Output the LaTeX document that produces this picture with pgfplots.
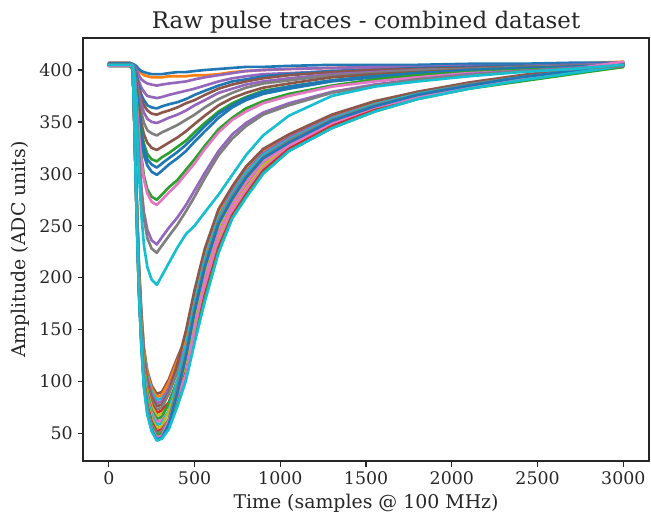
\documentclass[border=0pt]{standalone}
\usepackage{fontspec}
\setmainfont{DejaVu Serif}
\usepackage{pgfplots}
\usepackage{pgfplotstable}
\pgfplotsset{compat=1.18}
\definecolor{tabblue}{HTML}{1F77B4}
\definecolor{taborange}{HTML}{FF7F0E}
\definecolor{tabgreen}{HTML}{2CA02C}
\definecolor{tabred}{HTML}{D62728}
\definecolor{tabpurple}{HTML}{9467BD}
\definecolor{tabbrown}{HTML}{8C564B}
\definecolor{tabpink}{HTML}{E377C2}
\definecolor{tabgray}{HTML}{7F7F7F}
\definecolor{tabolive}{HTML}{BCBD22}
\definecolor{tabcyan}{HTML}{17BECF}
\definecolor{spine}{HTML}{262626}

% one row per trace, one column per sample time (row x)
\pgfplotstableread{
name c1 c2 c3 c4 c5 c6 c7 c8 c9 c10 c11 c12 c13 c14 c15 c16 c17 c18 c19 c20 c21 c22 c23 c24 c25 c26 c27 c28 c29
x 0 125 140 150 160 175 190 205 225 250 280 310 350 400 450 500 560 640 720 800 900 1050 1300 1550 1800 2100 2400 2700 3000
L1 405 405 402 351 291 215 167 132 110 96 88 90 102 123 142 180 221 262 286 304 323 337 356 368 378 387 393 399 404
L2 406 406 403 351 290 213 165 130 108 93 85 87 99 120 140 178 220 261 286 304 322 337 356 369 379 387 394 400 406
L3 404 404 401 349 288 211 162 127 104 90 82 84 92 111 134 166 201 243 272 290 311 330 350 364 375 384 391 397 404
L4 405 405 402 350 288 209 160 125 102 87 79 81 94 115 134 173 216 258 283 302 320 335 354 367 377 386 393 398 405
L5 407 407 404 351 288 208 159 122 99 84 76 78 89 117 149 188 228 266 288 307 324 338 357 370 379 388 395 401 407
L6 404 404 401 348 285 205 156 119 96 81 73 75 88 109 129 169 212 255 280 299 318 333 353 366 376 385 392 397 403
L7 405 405 402 348 284 204 154 117 93 78 70 72 80 100 124 157 194 238 268 287 308 328 349 364 374 384 391 398 405
L8 406 406 403 348 284 203 152 114 91 76 67 69 77 98 121 155 192 237 267 286 308 328 349 364 375 385 392 398 406
L9 404 404 401 346 282 200 149 112 88 72 64 66 79 101 122 163 207 251 276 296 316 331 351 365 375 384 391 397 404
L10 405 405 402 346 281 199 147 109 85 70 61 63 71 92 116 150 188 233 264 284 305 326 348 363 374 383 391 397 405
L11 406 406 403 347 281 197 145 107 82 67 58 60 72 101 135 176 218 258 281 301 318 333 353 367 377 386 393 399 406
L12 404 404 400 345 278 195 142 104 79 64 55 57 71 93 114 156 202 247 273 293 313 329 350 364 374 384 391 397 403
L13 405 405 401 345 278 193 140 101 77 61 52 54 63 84 109 144 183 229 260 280 303 324 346 362 373 383 390 397 405
L14 406 406 402 346 278 192 139 100 75 59 50 52 64 95 128 171 214 255 279 298 316 332 352 366 376 386 393 399 406
L15 404 404 400 344 276 190 137 98 73 57 48 50 59 80 105 141 180 226 258 278 301 322 344 360 372 382 389 396 403
L16 405 405 401 344 276 190 136 96 71 55 46 48 62 86 107 150 197 243 270 291 312 328 349 364 374 384 392 398 405
L17 406 406 402 345 276 189 135 95 69 53 44 46 59 89 124 167 210 252 276 296 315 330 351 365 376 385 393 399 406
L18 405 405 401 344 275 188 134 94 68 52 43 45 54 76 101 137 177 224 257 277 300 322 344 360 372 382 390 397 404
S1 405 405 405 404 402 399 397 395 394 393 393 393 394 394 394 395 395 396 398 399 400 401 402 403 403 404 405 406 408
S2 406 406 406 405 404 401 399 398 397 396 396 396 397 398 398 399 400 401 402 403 403 404 405 405 405 406 406 407 407
S3 405 405 405 404 401 395 391 389 387 386 385 386 387 388 389 391 393 395 397 399 400 401 402 403 403 404 404 405 406
S4 404 404 404 402 397 389 383 379 375 374 373 374 376 378 380 382 385 389 392 394 396 397 399 401 401 402 403 403 404
S5 405 405 405 402 396 385 376 371 366 364 363 365 367 369 372 376 380 385 389 391 394 396 399 400 402 403 404 404 405
S6 405 405 405 402 394 382 372 366 361 358 357 359 361 364 368 371 376 382 386 389 392 395 398 400 401 402 403 404 405
S7 404 404 404 401 392 378 367 359 353 350 349 351 354 357 361 366 371 378 382 386 389 392 396 398 400 401 402 403 404
S8 405 405 405 401 390 372 359 349 342 339 337 340 343 347 352 357 364 372 378 383 387 390 395 397 400 401 403 404 405
S9 405 405 405 400 387 366 349 338 330 325 323 326 330 335 341 348 356 366 373 378 383 387 393 396 398 400 402 403 405
S10 404 404 404 398 384 360 341 329 319 314 312 316 320 326 332 340 349 360 368 374 380 384 390 394 397 399 401 402 404
S11 405 405 405 399 383 358 338 324 314 309 306 310 315 321 328 336 346 358 366 373 379 384 390 394 397 400 402 403 405
S12 405 405 405 399 382 354 333 318 308 302 299 303 309 315 322 331 341 354 364 371 377 382 389 393 397 399 401 403 405
S13 405 405 405 397 376 343 317 298 285 278 275 280 287 294 304 314 327 343 354 363 370 377 385 391 395 398 400 402 404
S14 404 404 404 396 374 340 313 294 281 273 270 275 282 290 300 310 324 340 352 360 368 375 384 389 393 397 399 401 408
S15 405 405 405 395 367 322 287 263 246 236 232 239 248 258 270 284 301 322 338 349 359 368 379 386 391 396 399 402 404
S16 405 405 405 394 365 318 282 257 238 228 224 231 240 251 264 278 296 318 334 346 357 366 378 385 391 395 399 401 404
S17 405 405 405 392 358 303 261 231 210 198 193 202 214 229 242 250 263 280 299 318 337 356 375 384 389 394 398 401 405
}\rawtraces
\pgfplotstabletranspose[colnames from=name]{\traces}{\rawtraces}

\begin{document}
\begin{tikzpicture}
\useasboundingbox (-59.8pt,-38.9pt) rectangle (408.9pt,332pt);
\begin{axis}[
  at={(0,0)}, anchor=south west,
  scale only axis, width=407.5pt, height=304.6pt,
  xmin=-150, xmax=3150, ymin=23.3, ymax=430.8,
  xtick={0,500,...,3000}, ytick={50,100,...,400},
  xtick pos=bottom, ytick pos=left,
  tick align=outside, major tick length=4pt,
  tick style={line width=0.9pt, color=spine},
  axis line style={line width=0.9pt, color=spine},
  ticklabel style={font=\fontsize{12.5}{14}\selectfont, color=spine},
  /pgf/number format/assume math mode=true,
  /pgf/number format/1000 sep={},
  scaled ticks=false,
  xlabel={Time (samples @ 100 MHz)},
  ylabel={Amplitude (ADC units)},
  label style={font=\fontsize{13.6}{15}\selectfont, color=spine},
  title={Raw pulse traces - combined dataset},
  title style={font=\fontsize{16.5}{18}\selectfont, color=spine, yshift=-6pt},
  every axis plot/.append style={line width=1.9pt, line join=round, line cap=round, mark=none},
]
\addplot[tabbrown]  table[x=x,y=L1]{\traces};
\addplot[taborange] table[x=x,y=L2]{\traces};
\addplot[tabcyan]   table[x=x,y=L3]{\traces};
\addplot[tabpurple] table[x=x,y=L4]{\traces};
\addplot[tabbrown]  table[x=x,y=L5]{\traces};
\addplot[tabgray]   table[x=x,y=L6]{\traces};
\addplot[tabred]    table[x=x,y=L7]{\traces};
\addplot[tabolive]  table[x=x,y=L8]{\traces};
\addplot[tabgreen]  table[x=x,y=L9]{\traces};
\addplot[tabpink]   table[x=x,y=L10]{\traces};
\addplot[tabcyan]   table[x=x,y=L11]{\traces};
\addplot[tabolive]  table[x=x,y=L12]{\traces};
\addplot[tabred]    table[x=x,y=L13]{\traces};
\addplot[tabgray]   table[x=x,y=L14]{\traces};
\addplot[tabgreen]  table[x=x,y=L15]{\traces};
\addplot[tabpink]   table[x=x,y=L16]{\traces};
\addplot[tabblue]   table[x=x,y=L17]{\traces};
\addplot[tabcyan]   table[x=x,y=L18]{\traces};
\addplot[taborange] table[x=x,y=S1]{\traces};
\addplot[tabblue]   table[x=x,y=S2]{\traces};
\addplot[tabpurple] table[x=x,y=S3]{\traces};
\addplot[tabpurple] table[x=x,y=S4]{\traces};
\addplot[tabblue]   table[x=x,y=S5]{\traces};
\addplot[tabbrown]  table[x=x,y=S6]{\traces};
\addplot[tabpurple] table[x=x,y=S7]{\traces};
\addplot[tabgray]   table[x=x,y=S8]{\traces};
\addplot[tabbrown]  table[x=x,y=S9]{\traces};
\addplot[tabgreen]  table[x=x,y=S10]{\traces};
\addplot[tabblue]   table[x=x,y=S11]{\traces};
\addplot[tabblue]   table[x=x,y=S12]{\traces};
\addplot[tabgreen]  table[x=x,y=S13]{\traces};
\addplot[tabpink]   table[x=x,y=S14]{\traces};
\addplot[tabpurple] table[x=x,y=S15]{\traces};
\addplot[tabgray]   table[x=x,y=S16]{\traces};
\addplot[tabcyan]   table[x=x,y=S17]{\traces};
\end{axis}
\end{tikzpicture}
\end{document}
